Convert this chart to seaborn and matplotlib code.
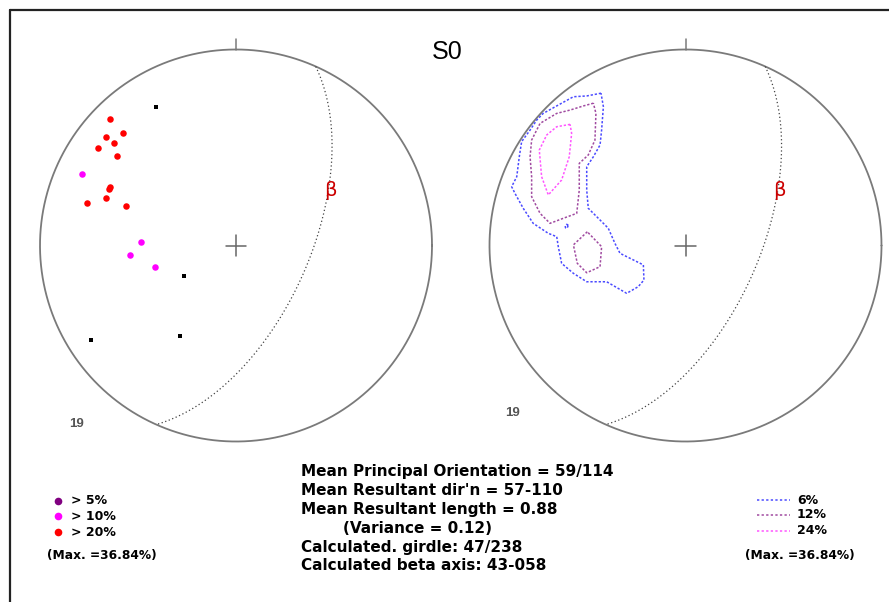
import numpy as np
import pandas as pd
import matplotlib
matplotlib.use("Agg")
import matplotlib.pyplot as plt
import seaborn as sns

sns.set_style("white")
plt.rcParams['font.family'] = ['DejaVu Sans']
plt.rcParams['text.color'] = 'black'

# ---------------- data ----------------
# Poles plotted on the left net (equal-area coordinates, unit radius)
pts_x = [-0.407, -0.643, -0.575, -0.662, -0.622, -0.706, -0.607, -0.784, -0.644, -0.648,
         -0.665, -0.762, -0.561, -0.483, -0.541, -0.413, -0.265, -0.741, -0.287]
pts_y = [0.705, 0.644, 0.576, 0.554, 0.523, 0.496, 0.458, 0.365, 0.300, 0.290,
         0.244, 0.218, 0.203, 0.016, -0.048, -0.110, -0.156, -0.481, -0.462]
pts_cls = ['low', '>20%', '>20%', '>20%', '>20%', '>20%', '>20%', '>10%', '>20%', '>20%',
           '>20%', '>20%', '>20%', '>10%', '>10%', '>10%', 'low', 'low', 'low']

# Contour rings on the right net (equal-area coordinates, unit radius)
c6_x = [-0.431, -0.504, -0.572, -0.632, -0.726, -0.759, -0.793, -0.836, -0.848, -0.861, -0.887,
        -0.870, -0.828, -0.777, -0.700, -0.657, -0.649, -0.632, -0.572, -0.504, -0.402, -0.300,
        -0.241, -0.212, -0.215, -0.334, -0.360, -0.394, -0.436, -0.496, -0.504, -0.504, -0.470,
        -0.436, -0.428, -0.419]
c6_y = [0.777, 0.763, 0.759, 0.726, 0.674, 0.640, 0.589, 0.530, 0.453, 0.351, 0.300,
        0.266, 0.190, 0.113, 0.062, 0.045, -0.006, -0.091, -0.142, -0.185, -0.185, -0.244,
        -0.210, -0.176, -0.099, -0.040, 0.011, 0.088, 0.130, 0.190, 0.283, 0.402, 0.453,
        0.513, 0.589, 0.708]
c6b_x = [-0.598, -0.606, -0.614, -0.612, -0.604]
c6b_y = [0.104, 0.108, 0.100, 0.090, 0.088]
c12a_x = [-0.470, -0.521, -0.589, -0.657, -0.742, -0.785, -0.793, -0.785, -0.785, -0.742, -0.691,
          -0.623, -0.555, -0.542, -0.542, -0.496, -0.462, -0.457]
c12a_y = [0.726, 0.712, 0.691, 0.674, 0.623, 0.538, 0.453, 0.351, 0.249, 0.164, 0.113,
          0.139, 0.164, 0.283, 0.419, 0.462, 0.538, 0.674]
c12b_x = [-0.501, -0.572, -0.552, -0.504, -0.436, -0.428]
c12b_y = [0.070, 0.003, -0.091, -0.139, -0.108, -0.006]
c24_x = [-0.589, -0.657, -0.708, -0.746, -0.734, -0.700, -0.632, -0.593, -0.581]
c24_y = [0.618, 0.606, 0.564, 0.487, 0.351, 0.258, 0.334, 0.453, 0.572]

# Plane drawn as dotted great circle (dip / dip direction)
plane_dip = 59.5
plane_dipdir = 114

n_points = 19
stats_lines = ["Mean Principal Orientation = 59/114",
               "Mean Resultant dir'n = 57-110",
               "Mean Resultant length = 0.88",
               "        (Variance = 0.12)",
               "Calculated. girdle: 47/238",
               "Calculated beta axis: 43-058"]
point_legend = ["> 5%", "> 10%", "> 20%"]
contour_legend = ["6%", "12%", "24%"]
max_text = "(Max. =36.84%)"

# ---------------- helpers ----------------
W, H = 889, 602
fig = plt.figure(figsize=(W / 100, H / 100), dpi=100)


def fx(px):
    return px / W


def fy(py):
    return 1 - py / H


def great_circle(dip, dipdir, n=200):
    d, a = np.radians(dip), np.radians(dipdir)
    s = np.array([np.sin(a - np.pi / 2), np.cos(a - np.pi / 2), 0.0])
    v = np.array([np.cos(d) * np.sin(a), np.cos(d) * np.cos(a), np.sin(d)])
    t = np.linspace(0, np.pi, n)
    vec = np.outer(np.cos(t), s) + np.outer(np.sin(t), v)
    plunge = np.arcsin(np.clip(vec[:, 2], -1, 1))
    trend = np.arctan2(vec[:, 0], vec[:, 1])
    r = np.sqrt(2) * np.sin((np.pi / 2 - plunge) / 2)
    return r * np.sin(trend), r * np.cos(trend)


def net_axes(cx_px):
    lim = 1.1
    size = 196 * 2 * lim
    ax = fig.add_axes([fx(cx_px - size / 2), fy(245.5 + size / 2), size / W, size / H])
    ax.set_xlim(-lim, lim)
    ax.set_ylim(-lim, lim)
    ax.set_aspect('equal')
    ax.axis('off')
    th = np.linspace(0, 2 * np.pi, 400)
    ax.plot(np.cos(th), np.sin(th), color='#7a7a7a', lw=1.3)
    ax.plot([0, 0], [1, 1.052], color='#7a7a7a', lw=1.1)
    ax.plot([-0.052, 0.052], [0, 0], color='#666666', lw=1.1)
    ax.plot([0, 0], [-0.052, 0.052], color='#666666', lw=1.1)
    gx, gy = great_circle(plane_dip, plane_dipdir)
    ax.plot(gx, gy, color='#444444', lw=0.9, linestyle=(0, (1, 2)))
    return ax


# ---------------- left net: points ----------------
axL = net_axes(236)
df_pts = pd.DataFrame({'x': pts_x, 'y': pts_y, 'cls': pts_cls})
for cls, marker, size in [('low', 's', 9), ('>10%', 'o', 22), ('>20%', 'o', 22)]:
    sub = df_pts[df_pts.cls == cls]
    sns.scatterplot(data=sub, x='x', y='y', ax=axL, color={'low': 'black', '>10%': '#ff00ff', '>20%': '#ff0000'}[cls],
                    marker=marker, s=size, linewidth=0, legend=False)
axL.set_xlabel('')
axL.set_ylabel('')

# ---------------- right net: contours ----------------
axR = net_axes(685.5)
rings = [(c6_x, c6_y, '6%'), (c6b_x, c6b_y, '6%'), (c12a_x, c12a_y, '12%'),
         (c12b_x, c12b_y, '12%'), (c24_x, c24_y, '24%')]
rows = []
for i, (xs, ys, lev) in enumerate(rings):
    xs2 = list(xs) + [xs[0]]
    ys2 = list(ys) + [ys[0]]
    for k, (a, b) in enumerate(zip(xs2, ys2)):
        rows.append({'x': a, 'y': b, 'level': lev, 'ring': i, 'order': k})
df_c = pd.DataFrame(rows)
pal = {'6%': '#4a4aff', '12%': '#a04aa0', '24%': '#ff55ff'}
sns.lineplot(data=df_c, x='x', y='y', hue='level', units='ring', estimator=None, sort=False,
             palette=pal, style='level', dashes={'6%': (1.5, 1.2), '12%': (1.5, 1.2), '24%': (1.5, 1.2)},
             lw=1.1, ax=axR, legend=False)
axR.set_xlabel('')
axR.set_ylabel('')

# ---------------- overlay: frame, labels, legends ----------------
ov = fig.add_axes([0, 0, 1, 1], zorder=-1)
ov.set_xlim(0, W)
ov.set_ylim(H, 0)
ov.axis('off')
ov.plot([10, W], [10, 10], color='#222222', lw=1.6)
ov.plot([10, 10], [10, H], color='#222222', lw=1.6)

fig.text(fx(447), fy(52), "S0", fontsize=18, family='Liberation Sans', ha='center', va='center')
for bx in (330, 779):
    fig.text(fx(bx), fy(191), "β", fontsize=14, color='#cc0000', ha='center', va='center')
fig.text(fx(77), fy(424), str(n_points), fontsize=9.5, fontweight='bold', color='#555555',
         family='Liberation Sans', ha='center', va='center')
fig.text(fx(513), fy(413), str(n_points), fontsize=9.5, fontweight='bold', color='#555555',
         family='Liberation Sans', ha='center', va='center')

for i, line in enumerate(stats_lines):
    fig.text(fx(301), fy(476 + 18.9 * i), line, fontsize=11, fontweight='bold',
             ha='left', va='baseline')

leg_cols = ['#800080', '#ff00ff', '#ff0000']
leg_y = [501, 516, 532]
for c, yy, lab in zip(leg_cols, leg_y, point_legend):
    ov.plot([58], [yy], marker='o', ms=5.5, color=c, mec='none')
    fig.text(fx(71), fy(yy), lab, fontsize=9, fontweight='bold', ha='left', va='center')
fig.text(fx(47), fy(556), max_text, fontsize=8.8, fontweight='bold', ha='left', va='center')

leg_y2 = [500, 515, 531]
for lev, yy, lab in zip(['6%', '12%', '24%'], leg_y2, contour_legend):
    ov.plot([757, 790], [yy, yy], color=pal[lev], lw=1.1, linestyle=(0, (1.5, 1.5)))
    fig.text(fx(797), fy(yy), lab, fontsize=9, fontweight='bold', ha='left', va='center')
fig.text(fx(745), fy(556), max_text, fontsize=8.8, fontweight='bold', ha='left', va='center')

fig.savefig("out.png", dpi=100, facecolor='white')
